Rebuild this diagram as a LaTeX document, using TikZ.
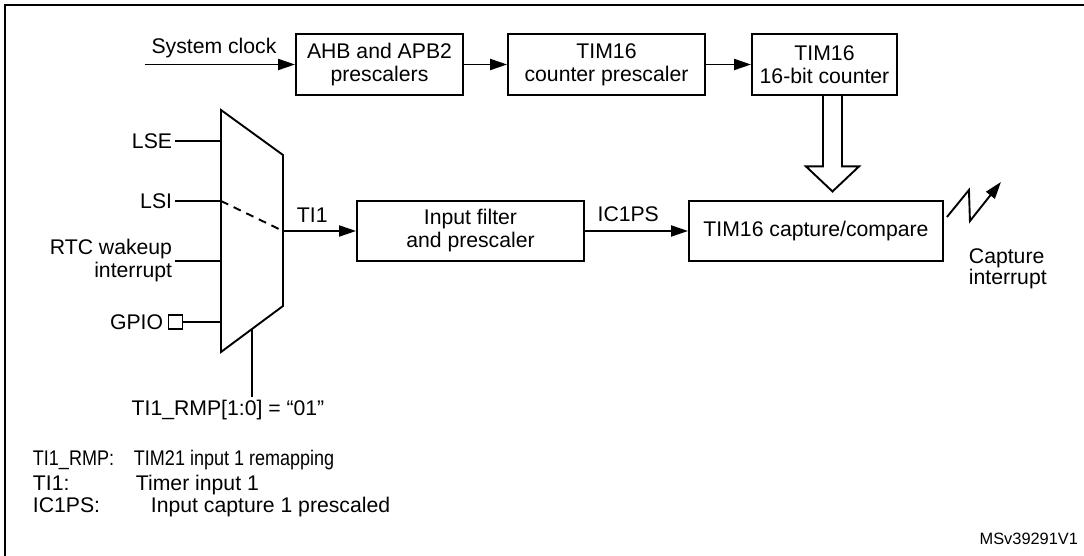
\documentclass[tikz,border=0pt]{standalone}
\usepackage{fontspec}
\setmainfont{Liberation Sans}
\usepackage{tikz}
\usetikzlibrary{arrows.meta}

\begin{document}
\begin{tikzpicture}[x=0.5pt, y=-0.5pt, line width=0.95pt,
	blk/.style={draw, align=center, minimum height=30.5pt, inner sep=2pt},
	lbl/.style={inner sep=1pt},
	arr/.style={-{Triangle[length=8.5pt,width=5.5pt]}}]
	\fontsize{10.6}{11.5}\selectfont
	\useasboundingbox (0,0) rectangle (1084,556);
	\draw[line width=1.3pt] (5,556) -- (5,5) -- (1084,5);

	% clock path
	\node[blk, minimum width=83.5pt] (ahb) at (379.5,64.5) {AHB and APB2\\prescalers};
	\node[blk, minimum width=98.5pt] (psc) at (606.5,64.5) {TIM16\\counter prescaler};
	\node[blk, minimum width=72.5pt] (cnt) at (824.5,64.5) {TIM16\\16-bit counter};
	\coordinate (sysclk) at (145,64.5);
	\draw[arr] (sysclk) -- node[lbl, above=2pt, pos=.46]{System clock} (ahb);
	\draw[arr] (ahb) -- (psc);
	\draw[arr] (psc) -- (cnt);

	% mux
	\coordinate (m1) at (221,110);
	\coordinate (m2) at (283,155);
	\coordinate (m3) at (283,306);
	\coordinate (m4) at (221,352);
	\draw (m1) -- (m2) -- (m3) -- (m4) -- cycle;
	\node[lbl, anchor=east] (lse) at (175,141) {LSE};
	\node[lbl, anchor=east] (lsi) at (175,201) {LSI};
	\node[lbl, anchor=east, align=right] (rtc) at (175,261) {RTC wakeup\\interrupt};
	\node[draw, minimum size=7pt, inner sep=0pt] (pad) at (175.5,322) {};
	\node[lbl, anchor=east] (gpio) at (166,322) {GPIO};
	\draw (lse.east) -- (lse.east -| m1);
	\draw (lsi.east) -- (lsi.east -| m1);
	\draw (rtc.east) -- (rtc.east -| m1);
	\draw (pad.east) -- (pad.east -| m1);
	\coordinate (mout) at (283,231);
	\draw[dash pattern=on 4pt off 3pt] (lsi.east -| m1) -- (mout);
	\coordinate (msel) at (252,329);
	\node[lbl] (rmp) at (228,410) {TI1\_RMP[1:0] = “01”};
	\draw (msel) -- (msel |- rmp.north);

	% capture path
	\node[blk, minimum width=113.5pt, minimum height=30pt] (filt) at (470.5,231) {Input filter\\and prescaler};
	\node[blk, minimum width=127pt, minimum height=30pt] (cap) at (816,231) {TIM16 capture/compare};
	\draw[arr] (mout) -- node[lbl, above=3pt, pos=.4]{TI1} (filt);
	\draw[arr] (filt) -- node[lbl, above=3pt, pos=.42]{IC1PS} (cap);
	\draw (cnt.south) ++(-1.5,0) -- ++(0,70.5) -- ++(-17,0) -- ++(26.5,25) -- ++(26.5,-25) -- ++(-17,0) -- ++(0,-70.5);
	\draw[arr] ([shift={(3,-14)}]cap.east) -- ++(22,-27) -- ++(1,31) -- ++(31,-39);
	\node[anchor=north west, align=left, inner sep=0pt, font=\fontsize{10.6}{10.5}\selectfont] (capint) at (968,248) {Capture\\interrupt};

	% legend
	\node[anchor=base west, inner sep=0pt] (k1) at (32,466) {\scalebox{0.85}[1]{TI1\_RMP:}};
	\node[anchor=base west, inner sep=0pt] (v1) at (133,466) {\scalebox{0.85}[1]{TIM21 input 1 remapping}};
	\node[anchor=base west, inner sep=0pt] (k2) at (32,490) {TI1:};
	\node[anchor=base west, inner sep=0pt] (v2) at (135,490) {Timer input 1};
	\node[anchor=base west, inner sep=0pt] (k3) at (32,512) {IC1PS:};
	\node[anchor=base west, inner sep=0pt] (v3) at (150,512) {Input capture 1 prescaled};
	\node[anchor=base east, inner sep=0pt, font=\fontsize{8.2}{9}\selectfont] (msv) at (1079,545) {MSv39291V1};
\end{tikzpicture}
\end{document}
